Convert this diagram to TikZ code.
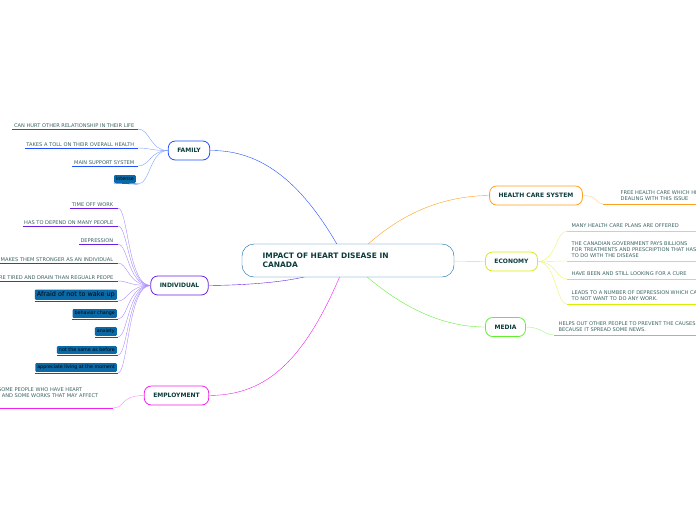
\documentclass[tikz,border=0pt]{standalone}
\usepackage{fontspec}
\setmainfont{DejaVu Sans}
\usetikzlibrary{positioning}
\definecolor{ink}{HTML}{0B3B3B}
\definecolor{famc}{HTML}{1F4FFF}
\definecolor{famt}{HTML}{7FA0FF}
\definecolor{indc}{HTML}{6A1FE0}
\definecolor{indt}{HTML}{A88CFF}
\definecolor{empc}{HTML}{F020F0}
\definecolor{hcc}{HTML}{FFA020}
\definecolor{ecoc}{HTML}{D8F000}
\definecolor{medc}{HTML}{60F030}
\definecolor{boxc}{HTML}{0A6AA8}
\begin{document}
\begin{tikzpicture}[x=1pt,y=-1pt,
  topic/.style={rounded corners=7pt,draw=#1,thick,fill=white,text=ink,font=\fontsize{6}{7}\selectfont\bfseries,minimum height=19pt,inner xsep=9pt},
  leaf/.style={anchor=south east,inner sep=1.5pt,text=ink!80,font=\fontsize{5.1}{6.1}\selectfont,align=left},
  tag/.style={anchor=south east,inner sep=2pt,fill=boxc,rounded corners=1pt,text=black,font=\fontsize{4.8}{5.8}\selectfont},
  rleaf/.style={anchor=south west,inner sep=1.5pt,text=ink!80,font=\fontsize{5.1}{6.1}\selectfont,align=left}]
\useasboundingbox (0,0) rectangle (696,520);
% branches
\node[topic=famc] (fam) at (189,150.5) {FAMILY};
\node[topic=indc] (ind) at (179.5,285.5) {INDIVIDUAL};
\node[topic=empc] (emp) at (176.5,395.5) {EMPLOYMENT};
\node[topic=hcc] (hc) at (536,195.5) {HEALTH CARE SYSTEM};
\node[topic=ecoc] (eco) at (511.5,261.5) {ECONOMY};
\node[topic=medc] (med) at (505.5,327) {MEDIA};
% main lines
\draw[famc] (338,246) .. controls (300,180) and (260,150) .. (fam.east);
\draw[indc] (340,262) .. controls (320,280) and (260,285) .. (ind.east);
\draw[empc] (340,276) .. controls (300,370) and (260,395) .. (emp.east);
\draw[hcc] (366,246) .. controls (400,215) and (440,196) .. (hc.west);
\draw[ecoc] (440,261) -- (eco.west);
\draw[medc] (366,276) .. controls (400,305) and (440,327) .. (med.west);
\node[rounded corners=12pt,draw=boxc,fill=white,minimum width=212pt,minimum height=33pt] (main) at (348,260.5) {};
\node[anchor=west,text=ink,font=\fontsize{7.5}{9.5}\selectfont\bfseries,align=left] (title) at (259,260.5) {IMPACT OF HEART DISEASE IN\\CANADA};
% family leaves
\foreach \n/\y/\t in {f1/129/{CAN HURT OTHER RELATIONSHIP IN THEIR LIFE},f2/148/{TAKES A TOLL ON THEIR OVERALL HEALTH},f3/166/{MAIN SUPPORT SYSTEM}}{
  \node[leaf] (\n) at (136,\y) {\t};
  \draw[famc,thick] (\n.south west) -- (138,\y) coordinate (\n e);
  \draw[famt] (fam.west) .. controls (150,150.5) and (150,\y) .. (\n e);
}
\node[tag] (f4) at (136,183) {intense};
\draw[famc,thick] (f4.south west) -- (138,184) coordinate (f4e);
\draw[famt] (fam.west) .. controls (150,150.5) and (150,184) .. (f4e);
% individual leaves
\foreach \n/\y/\t in {i1/208/{TIME OFF WORK},i2/226/{HAS TO DEPEND ON MANY PEOPLE},i3/244/{DEPRESSION},i4/263/{MAKES THEM STRONGER AS AN INDIVIDUAL},i5/281/{MORE TIRED AND DRAIN THAN REGUALR PEOPE}}{
  \node[leaf] (\n) at (115,\y) {\t};
  \draw[indc,thick] (\n.south west) -- (118,\y) coordinate (\n e);
  \draw[indt] (ind.west) .. controls (128,285.5) and (128,\y) .. (\n e);
}
\node[tag,font=\fontsize{6.5}{7.5}\selectfont] (i6) at (117,300) {Afraid of not to wake up};
\foreach \n/\y/\t in {i7/318/{behavior change},i8/336/{anxiety},i9/354/{not the same as before},i10/372/{appreciate living at the moment}}{
  \node[tag] (\n) at (117,\y) {\t};
}
\foreach \n/\y in {i6/301,i7/319,i8/337,i9/355,i10/373}{
  \draw[indc,thick] (\n.south west|-0,\y) -- (118,\y) coordinate (\n e);
  \draw[indt] (ind.west) .. controls (128,285.5) and (128,\y) .. (\n e);
}
% employment
\node[leaf] (e1) at (100,399) {BECAUSE SOME PEOPLE WHO HAVE HEART\\PROBLEMS AND SOME WORKS THAT MAY AFFECT};
\draw[empc,thick] (-5,408) -- (113,408) coordinate (e1e);
\draw[empc!50] (emp.west) .. controls (120,395.5) and (125,408) .. (e1e);
% right side
\node[rleaf] (h1) at (619,202) {FREE HEALTH CARE WHICH HELPS PEOPLE\\DEALING WITH THIS ISSUE};
\draw[hcc,thick] (603,204) coordinate (h1e) -- (700,204);
\draw[hcc!50] (hc.east) .. controls (598,195.5) and (596,204) .. (h1e);
\foreach \n/\y/\t in {c1/231/{MANY HEALTH CARE PLANS ARE OFFERED},c2/261/{THE CANADIAN GOVERNMENT PAYS BILLIONS\\FOR TREATMENTS AND PRESCRIPTION THAT HAS\\TO DO WITH THE DISEASE},c3/279/{HAVE BEEN AND STILL LOOKING FOR A CURE},c4/304/{LEADS TO A NUMBER OF DEPRESSION WHICH CAUSES\\TO NOT WANT TO DO ANY WORK.}}{
  \node[rleaf] (\n) at (570,\y-2) {\t};
  \draw[ecoc,thick] (567,\y) coordinate (\n e) -- (700,\y);
  \draw[ecoc!60] (eco.east) .. controls (556,261.5) and (556,\y) .. (\n e);
}
\node[rleaf] (m1) at (557,333) {HELPS OUT OTHER PEOPLE TO PREVENT THE CAUSES\\BECAUSE IT SPREAD SOME NEWS.};
\draw[medc,thick] (554,335) coordinate (m1e) -- (700,335);
\draw[medc!60] (med.east) .. controls (542,327) and (544,335) .. (m1e);
\end{tikzpicture}
\end{document}
